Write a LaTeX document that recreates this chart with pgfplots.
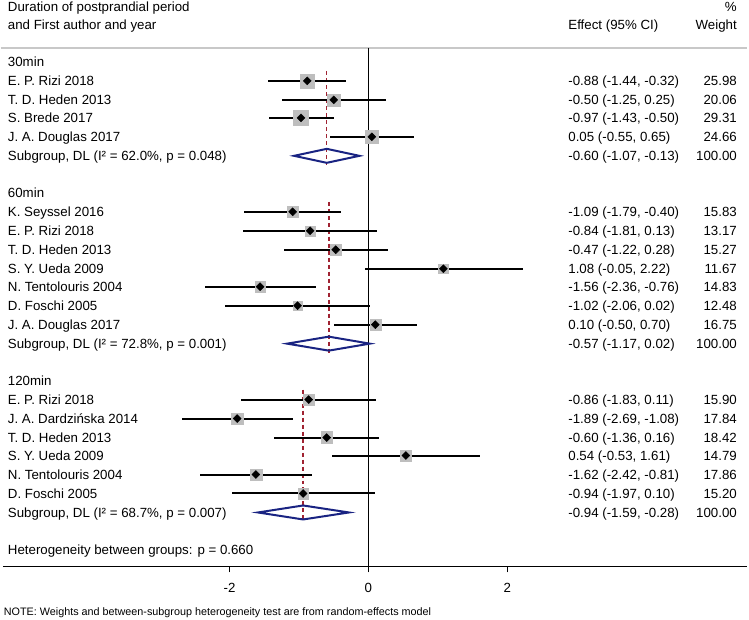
\documentclass[border=0pt]{standalone}
\usepackage{pgfplots}
\pgfplotsset{compat=1.18}
\usepackage{pgfplotstable}
\usepackage{fontspec}
\setmainfont{Liberation Sans}
\definecolor{navyd}{RGB}{25,35,130}
\definecolor{redd}{RGB}{160,35,50}
\definecolor{sqgray}{RGB}{190,190,190}
\definecolor{hdrgray}{RGB}{200,200,200}

% y = -(pixel row)
\pgfplotstableread{
y est lo hi w
-81 -0.88 -1.44 -0.32 25.98
-100 -0.50 -1.25 0.25 20.06
-118 -0.97 -1.43 -0.50 29.31
-137 0.05 -0.55 0.65 24.66
-212 -1.09 -1.79 -0.40 15.83
-231 -0.84 -1.81 0.13 13.17
-250 -0.47 -1.22 0.28 15.27
-269 1.08 -0.05 2.22 11.67
-287 -1.56 -2.36 -0.76 14.83
-306 -1.02 -2.06 0.02 12.48
-325 0.10 -0.50 0.70 16.75
-400 -0.86 -1.83 0.11 15.90
-419 -1.89 -2.69 -1.08 17.84
-438 -0.60 -1.36 0.16 18.42
-456 0.54 -0.53 1.61 14.79
-475 -1.62 -2.42 -0.81 17.86
-494 -0.94 -1.97 0.10 15.20
}\studies

\tikzset{lbl/.style={font=\fontsize{13.3}{15}\selectfont, text height=9.5pt, text depth=0pt, inner sep=0pt}}

\begin{document}
\begin{tikzpicture}
\begin{axis}[
  scale only axis, width=745pt, height=567pt,
  xmin=-5.266, xmax=5.453, ymin=-567, ymax=0,
  clip=false,
  axis y line=none, axis x line*=bottom,
  axis line style={black, line width=1.2pt},
  xtick={-2,0,2}, xticklabels={-2,0,2},
  tick align=outside, major tick length=6pt,
  tick style={black, line width=1pt},
  xticklabel style={font=\fontsize{13.3}{15}\selectfont, text height=9.5pt, text depth=0pt, yshift=-7pt},
]
% bounding box
\path (axis cs:-5.295,0) rectangle (axis cs:5.482,-620);
% header line
\addplot[hdrgray, line width=1.5pt] coordinates {(-5.295,-48) (5.45,-48)};
% zero line
\addplot[black, line width=1.2pt] coordinates {(0,-48) (0,-567)};
% subgroup overall dashed lines
\addplot[redd, line width=1.4pt, dash pattern=on 4pt off 3pt] coordinates {(-0.60,-71) (-0.60,-165)};
\addplot[redd, line width=1.4pt, dash pattern=on 4pt off 3pt] coordinates {(-0.57,-202) (-0.57,-353)};
\addplot[redd, line width=1.4pt, dash pattern=on 4pt off 3pt] coordinates {(-0.94,-390) (-0.94,-522)};
% weight squares
\addplot[only marks, scatter, mark=square*, color=sqgray, draw=none,
  scatter/use mapped color={draw=none, fill=sqgray},
  visualization depends on={1.373*sqrt(\thisrow{w}) \as \msize},
  scatter/@pre marker code/.append style={/tikz/mark size=\msize pt}]
  table[x=est, y=y] {\studies};
% CIs
\addplot[black, draw=none, mark=none,
  error bars/.cd, x dir=both, x explicit, error mark=none,
  error bar style={black, line width=2pt}]
  table[x=est, y=y, x error plus expr=\thisrow{hi}-\thisrow{est}, x error minus expr=\thisrow{est}-\thisrow{lo}] {\studies};
% point estimates
\addplot[only marks, mark=square*, mark size=2.83pt, mark options={rotate=45, fill=black, draw=black}]
  table[x=est, y=y] {\studies};
% subgroup diamonds
\addplot[navyd, line width=2pt, line join=miter] coordinates {(-1.07,-156) (-0.60,-149) (-0.13,-156) (-0.60,-163)} -- cycle;
\addplot[navyd, line width=2pt, line join=miter] coordinates {(-1.17,-344) (-0.57,-337) (0.02,-344) (-0.57,-351)} -- cycle;
\addplot[navyd, line width=2pt, line join=miter] coordinates {(-1.59,-513) (-0.94,-506) (-0.28,-513) (-0.94,-520)} -- cycle;

% headers
\node[lbl, anchor=west] at (axis cs:-5.194,-7) {Duration of postprandial period};
\node[lbl, anchor=west] at (axis cs:-5.194,-25) {and First author and year};
\node[lbl, anchor=west] at (axis cs:2.878,-25) {Effect (95\% CI)};
\node[lbl, anchor=east] at (axis cs:5.309,-7) {\%};
\node[lbl, anchor=east] at (axis cs:5.309,-25) {Weight};

% left labels
\foreach \yy/\lab in {62/30min, 81/E. P. Rizi 2018, 100/T. D. Heden 2013, 118/S. Brede 2017, 137/J. A. Douglas 2017,
  156/{Subgroup, DL (I² = 62.0\%, p = 0.048)},
  193/60min, 212/K. Seyssel 2016, 231/E. P. Rizi 2018, 250/T. D. Heden 2013, 269/S. Y. Ueda 2009, 287/N. Tentolouris 2004, 306/D. Foschi 2005, 325/J. A. Douglas 2017,
  344/{Subgroup, DL (I² = 72.8\%, p = 0.001)},
  381/120min, 400/E. P. Rizi 2018, 419/J. A. Dardzińska 2014, 438/T. D. Heden 2013, 456/S. Y. Ueda 2009, 475/N. Tentolouris 2004, 494/D. Foschi 2005,
  513/{Subgroup, DL (I² = 68.7\%, p = 0.007)},
  550/{Heterogeneity between groups: p = 0.660}}
  {\edef\temp{\noexpand\node[lbl, anchor=west] at (axis cs:-5.194,-\yy) {\lab};}\temp}

% effect and weight columns
\foreach \yy/\ee/\ww in {81/{-0.88 (-1.44, -0.32)}/25.98, 100/{-0.50 (-1.25, 0.25)}/20.06, 118/{-0.97 (-1.43, -0.50)}/29.31, 137/{0.05 (-0.55, 0.65)}/24.66, 156/{-0.60 (-1.07, -0.13)}/100.00,
  212/{-1.09 (-1.79, -0.40)}/15.83, 231/{-0.84 (-1.81, 0.13)}/13.17, 250/{-0.47 (-1.22, 0.28)}/15.27, 269/{1.08 (-0.05, 2.22)}/11.67, 287/{-1.56 (-2.36, -0.76)}/14.83, 306/{-1.02 (-2.06, 0.02)}/12.48, 325/{0.10 (-0.50, 0.70)}/16.75, 344/{-0.57 (-1.17, 0.02)}/100.00,
  400/{-0.86 (-1.83, 0.11)}/15.90, 419/{-1.89 (-2.69, -1.08)}/17.84, 438/{-0.60 (-1.36, 0.16)}/18.42, 456/{0.54 (-0.53, 1.61)}/14.79, 475/{-1.62 (-2.42, -0.81)}/17.86, 494/{-0.94 (-1.97, 0.10)}/15.20, 513/{-0.94 (-1.59, -0.28)}/100.00}
  {\edef\temp{\noexpand\node[lbl, anchor=west] at (axis cs:2.878,-\yy) {\ee};
   \noexpand\node[lbl, anchor=east] at (axis cs:5.309,-\yy) {\ww};}\temp}

% note
\node[font=\fontsize{10.8}{12}\selectfont, text height=7.7pt, text depth=0pt, inner sep=0pt, anchor=west] at (axis cs:-5.252,-612) {NOTE: Weights and between-subgroup heterogeneity test are from random-effects model};
\end{axis}
\end{tikzpicture}
\end{document}
